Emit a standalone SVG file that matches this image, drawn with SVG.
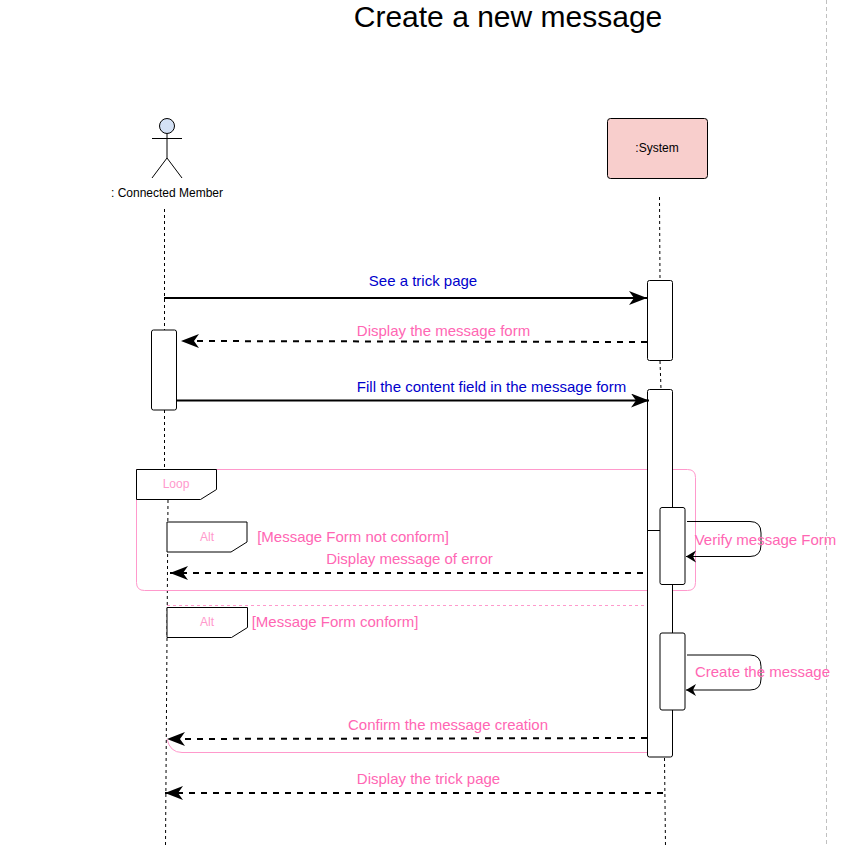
<svg xmlns="http://www.w3.org/2000/svg" width="851" height="847" viewBox="0 0 851 847">
<style>
text{font-family:"Liberation Sans",Arial,sans-serif}
.m{font-size:15px;text-anchor:middle}
.p{fill:#ff66b3}
.b{fill:#0000cc}
.tag{font-size:12px;text-anchor:middle;fill:#ff99cc}
.ll{fill:none;stroke:#000;stroke-dasharray:3 3}
.bar{fill:#fff;stroke:#000}
.tab{fill:#fff;stroke:#000}
.s{fill:none;stroke:#000;stroke-width:2;marker-end:url(#a)}
.d{fill:none;stroke:#000;stroke-width:2;stroke-dasharray:6 6;marker-end:url(#a)}
.y{fill:none;stroke:#000;stroke-width:1;marker-end:url(#c)}
.f{fill:none;stroke:#ff99cc}
</style>
<defs>
<marker id="a" markerUnits="userSpaceOnUse" markerWidth="20" markerHeight="16" refX="18" refY="7" orient="auto"><path d="M0 0L18 7L0 14L5 7Z" fill="#000"/></marker>
<marker id="c" markerUnits="userSpaceOnUse" markerWidth="12" markerHeight="14" refX="10" refY="6" orient="auto"><path d="M0 0L10 6L0 12L3 6Z" fill="#000"/></marker>
</defs>
<rect width="851" height="847" fill="#fff"/>
<text id="title" x="508" y="27" font-size="30" text-anchor="middle">Create a new message</text>
<line x1="826.5" y1="0" x2="826.5" y2="847" fill="none" stroke="#c0c0c0" stroke-dasharray="4 3"/>
<g id="lifelines">
<path class="ll" d="M164.5 209V330M164.5 410V470"/>
<path class="ll" d="M168 500L165.500 847"/>
<path class="ll" d="M659.5 197L660 280M660 361L661 389"/>
<path class="ll" d="M664.5 758L665.500 847"/>
</g>
<g id="actor-member">
<circle cx="167" cy="126" r="7.5" fill="#d4e1f5" stroke="#000"/>
<path d="M167 134V158M152 138.500H182M152 178L167 158L182 178" fill="none" stroke="#000"/>
<text x="167" y="197" font-size="12" text-anchor="middle">: Connected Member</text>
</g>
<g id="system">
<rect x="607.5" y="118.5" width="100" height="60" rx="3" fill="#f8cecc" stroke="#000"/>
<text x="657" y="152" font-size="12" text-anchor="middle">:System</text>
</g>
<g id="frames">
<path class="f" d="M136.5 469.5H687.500Q695.5 469.5 695.5 477.500V582.5Q695.5 590.5 687.5 590.5H144.5Q136.5 590.5 136.5 582.5Z"/>
<line x1="167" y1="605.5" x2="647" y2="605.5" stroke="#ff99cc" stroke-dasharray="3 3"/>
</g>
<g id="bars">
<rect id="bar1" class="bar" x="647.5" y="280.5" width="25" height="80" rx="2"/>
<rect id="bar2" class="bar" x="151.5" y="330" width="25" height="80" rx="2"/>
<rect id="bar3" class="bar" x="647.5" y="389.5" width="25" height="367.5" rx="2"/>
<line x1="647" y1="530.5" x2="660" y2="530.5" stroke="#000"/>
<rect id="bar4" class="bar" x="660" y="507.5" width="25" height="77" rx="2"/>
<rect id="bar5" class="bar" x="660" y="633" width="25" height="77" rx="2"/>
</g>
<g id="loop"><path class="tab" d="M136.5 469.5H216.5V489.5L200.5 499.5H136.5Z"/><text class="tag" x="176" y="488">Loop</text></g>
<g id="alt1"><path class="tab" d="M167 522H247V542L231 552H167Z"/><text class="tag" x="207" y="541">Alt</text></g>
<g id="alt2"><path class="tab" d="M167 607.5H247.500V627.5L231.500 637.5H167Z"/><text class="tag" x="207" y="626">Alt</text></g>
<g id="connectors">
<path class="s" d="M164 298H647"/>
<path class="d" d="M647 342L181 341"/>
<path class="s" d="M176 400.5H649"/>
<path class="y" d="M687 521.5H750Q761 521.5 761 533V545Q761 556.5 750 556.5H686"/>
<path class="d" d="M643 573H170"/>
<path class="y" d="M687 655H750Q761 655 761 666.500V679Q761 690 750 690H686"/>
<path class="d" d="M647 738L167 739"/>
<path class="f" d="M167 739Q170 752.500 182 752.500H647"/>
<path class="d" d="M663 793H165"/>
</g>
<g id="labels">
<text class="m b" x="423" y="286">See a trick page</text>
<text class="m p" x="443.500" y="336">Display the message form</text>
<text class="m b" x="491.500" y="392">Fill the content field in the message form</text>
<text class="m p" x="353" y="542">[Message Form not conform]</text>
<text class="m p" x="409.500" y="564">Display message of error</text>
<text class="m p" x="765.500" y="545">Verify message Form</text>
<text class="m p" x="335" y="627">[Message Form conform]</text>
<text class="m p" x="762.500" y="677">Create the message</text>
<text class="m p" x="448" y="730">Confirm the message creation</text>
<text class="m p" x="428.500" y="784">Display the trick page</text>
</g>
</svg>
